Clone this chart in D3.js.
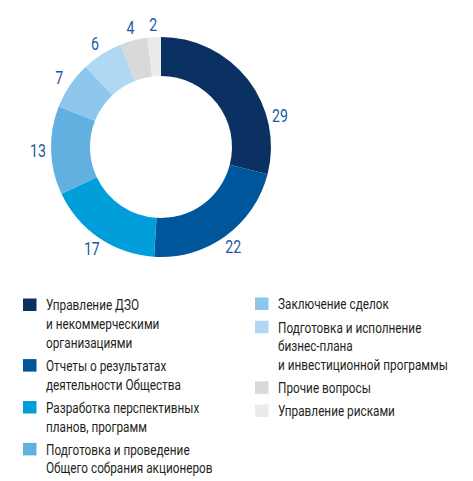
<!DOCTYPE html>
<html>
<head>
<meta charset="utf-8">
<script src="https://cdn.jsdelivr.net/npm/d3@7"></script>
<style>
  body { margin: 0; background: #fff; }
  svg { display: block; }
  text { font-family: "Roboto", "DejaVu Sans", sans-serif; }
</style>
</head>
<body>
<script>
var categories = [
  ["Управление ДЗО", "и некоммерческими", "организациями"],
  ["Отчеты о результатах", "деятельности Общества"],
  ["Разработка перспективных", "планов, программ"],
  ["Подготовка и проведение", "Общего собрания акционеров"],
  ["Заключение сделок"],
  ["Подготовка и исполнение", "бизнес-плана", "и инвестиционной программы"],
  ["Прочие вопросы"],
  ["Управление рисками"]
];
var values = [29, 22, 17, 13, 7, 6, 4, 2];
var colors = ["#0a3162", "#00569a", "#009fda", "#62b0e0", "#8dc7ee", "#b0d8f4", "#d9d9d9", "#ebebeb"];

var width = 473,
    height = 481;

// the original uses a condensed face, so squeeze the text horizontally
var squeeze = 0.785;

var svg = d3.select("body").append("svg")
    .attr("width", width)
    .attr("height", height);

// donut
var cx = 161, cy = 147,
    outer = 110, inner = 71;

var pie = d3.pie().sort(null).value(function(d) { return d; });
var arcs = pie(values);

var arc = d3.arc().innerRadius(inner).outerRadius(outer);

var g = svg.append("g")
    .attr("transform", "translate(" + cx + "," + cy + ")");

g.selectAll("path")
    .data(arcs)
  .enter().append("path")
    .attr("d", arc)
    .attr("fill", function(d, i) { return colors[i]; });

// value labels, the biggest one sits lower down its slice
g.selectAll("text.val")
    .data(arcs)
  .enter().append("text")
    .attr("class", "val")
    .attr("transform", function(d, i) {
      var f = i === 0 ? 0.72 : 0.5;
      var a = d.startAngle + (d.endAngle - d.startAngle) * f;
      var r = 123;
      return "translate(" + (Math.sin(a) * r) + "," + (-Math.cos(a) * r) + ") scale(" + squeeze + ",1)";
    })
    .attr("text-anchor", "middle")
    .attr("dy", "0.36em")
    .style("font-size", "18px")
    .style("fill", "#1b5aa0")
    .text(function(d) { return d.data; });

// legend
var lineH = 18.7, gapH = 4.5;
var cols = [{x: 23, y: 305, items: [0, 1, 2, 3]}, {x: 255, y: 304, items: [4, 5, 6, 7]}];

cols.forEach(function(col) {
  var y = col.y;
  col.items.forEach(function(i) {
    var item = svg.append("g").attr("transform", "translate(" + col.x + "," + y + ")");
    item.append("rect")
        .attr("x", 0).attr("y", -6.5)
        .attr("width", 13.5).attr("height", 12.5)
        .attr("fill", colors[i]);
    item.append("g")
        .attr("transform", "translate(23,0) scale(" + squeeze + ",1)")
      .append("text")
        .style("font-size", "15px")
        .style("fill", "#231f20")
      .selectAll("tspan")
        .data(categories[i])
      .enter().append("tspan")
        .attr("x", 0)
        .attr("y", function(d, j) { return j * lineH; })
        .attr("dy", "0.36em")
        .text(function(d) { return d; });
    y += categories[i].length * lineH + gapH;
  });
});
</script>
</body>
</html>
